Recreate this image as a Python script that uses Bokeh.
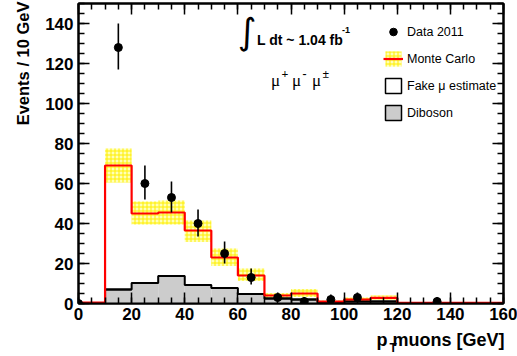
import numpy as np
from bokeh.plotting import figure
from bokeh.models import (Range1d, LinearAxis, SingleIntervalTicker, CustomJSTickFormatter,
                          Label, Legend, LegendItem, Title)
from bokeh.embed import file_html
from bokeh.resources import INLINE

# ---- data ----
bin_lo = [0, 10, 20, 30, 40, 50, 60, 70, 80, 90, 100, 110, 120, 130, 140, 150]
bin_hi = [10, 20, 30, 40, 50, 60, 70, 80, 90, 100, 110, 120, 130, 140, 150, 160]
mc      = [0.5, 69.0, 45.0, 45.5, 36.5, 23.0, 14.0, 4.0, 5.0, 1.0, 2.0, 2.8, 0.3, 0.3, 0.3, 0.3]
mc_down = [0.3, 60.5, 39.5, 39.5, 30.7, 18.7, 11.2, 2.8, 3.3, 0.6, 1.3, 2.0, 0.2, 0.2, 0.2, 0.2]
mc_up   = [0.7, 77.5, 51.0, 51.5, 41.5, 27.5, 17.5, 5.3, 7.3, 1.5, 3.0, 4.0, 0.4, 0.4, 0.4, 0.4]
diboson = [0.0, 7.0, 10.3, 13.7, 9.2, 7.8, 4.8, 2.5, 2.0, 0.5, 1.0, 1.0, 0.0, 0.0, 0.0, 0.0]
fake    = [0.0] * 16

data_x  = [0, 15, 25, 35, 45, 55, 65, 75, 85, 95, 105, 135]
data_y  = [0, 128, 60, 53, 40, 25, 13, 3, 1, 2, 3, 1]
data_lo = [0, 117, 52, 45.5, 33.5, 20, 9.5, 1.2, 0.2, 0.7, 1.3, 0.2]
data_hi = [0, 140, 69, 61, 47, 31, 17.5, 5.5, 3.3, 4.5, 5.5, 3.3]

xticks_major = 20
yticks_major = 20

FONT = "Liberation Sans"

p = figure(width=517, height=356, output_backend="svg", toolbar_location=None,
           x_range=Range1d(0, 160), y_range=Range1d(0, 150),
           min_border_left=77, min_border_right=14, min_border_top=3, min_border_bottom=53)
p.xgrid.visible = False
p.ygrid.visible = False
p.outline_line_color = "black"
p.outline_line_width = 2
p.background_fill_color = "white"
p.border_fill_color = "white"

def style_axis(ax, interval, labels=True):
    ax.ticker = SingleIntervalTicker(interval=interval, num_minor_ticks=4)
    ax.axis_line_color = "black"
    ax.axis_line_width = 2
    ax.major_tick_in = 11
    ax.major_tick_out = 0
    ax.minor_tick_in = 6
    ax.minor_tick_out = 0
    ax.major_tick_line_width = 1.5
    ax.minor_tick_line_width = 1.5
    ax.major_tick_line_color = "black"
    ax.minor_tick_line_color = "black"
    ax.major_label_text_font = FONT
    ax.major_label_text_font_style = "bold"
    ax.major_label_text_font_size = "17px"
    ax.major_label_text_color = "black"
    if not labels:
        ax.formatter = CustomJSTickFormatter(code="return ''")

style_axis(p.xaxis[0], xticks_major)
style_axis(p.yaxis[0], yticks_major)
p.xaxis[0].major_label_standoff = 4
p.yaxis[0].major_label_standoff = 5

ax_r = LinearAxis()
style_axis(ax_r, yticks_major, labels=False)
p.add_layout(ax_r, "right")
ax_t = LinearAxis()
style_axis(ax_t, xticks_major, labels=False)
p.add_layout(ax_t, "above")

# axis titles as side-panel titles
ytitle = Title(text="Events / 10 GeV", align="right", text_font=FONT, text_font_style="bold",
               text_font_size="16.5px", text_color="black", offset=-2, standoff=22)
p.add_layout(ytitle, "left")
xtitle = Title(text="p  muons [GeV]", align="right", text_font=FONT, text_font_style="bold",
               text_font_size="18px", text_color="black", offset=-6, standoff=10)
p.add_layout(xtitle, "below")
xsub = Title(text="T", align="left", vertical_align="top", text_font=FONT, text_font_style="bold",
             text_font_size="12px", text_color="black", offset=311, standoff=-28)
p.add_layout(xsub, "below")

# MC uncertainty band
band = p.quad(left=bin_lo, right=bin_hi, bottom=mc_down, top=mc_up,
              fill_color="#ffffb8", line_color=None,
              hatch_pattern="cross", hatch_color="#ffee00", hatch_scale=4, hatch_weight=1)

# Diboson (stack bottom) and fake (stacked on top)
p.quad(left=bin_lo, right=bin_hi, bottom=0, top=diboson,
       fill_color="#cccccc", line_color=None)
fake_top = [d + f for d, f in zip(diboson, fake)]
p.quad(left=bin_lo, right=bin_hi, bottom=diboson, top=fake_top,
       fill_color="white", line_color="black", line_width=2)
edges = bin_lo + [bin_hi[-1]]
p.step(x=edges, y=fake_top + [fake_top[-1]], mode="after", line_color="black", line_width=2)

# MC total
mc_line = p.step(x=edges, y=mc + [mc[-1]], mode="after", line_color="#ff0000", line_width=2.2)

# Data
p.segment(x0=data_x, x1=data_x, y0=data_lo, y1=data_hi, line_color="black", line_width=1.6)
pts = p.scatter(x=data_x, y=data_y, size=8, marker="circle", fill_color="black", line_color="black")

# Legend
leg_pts = p.scatter(x=[-100], y=[-100], size=6, marker="circle", fill_color="black", line_color="black")
dummy_fake = p.quad(left=[0], right=[0], bottom=[0], top=[0], fill_color="white",
                    line_color="black", line_width=1.5)
dummy_dib = p.quad(left=[0], right=[0], bottom=[0], top=[0], fill_color="#cccccc",
                   line_color="black", line_width=1.5)
legend = Legend(items=[
    LegendItem(label="Data 2011", renderers=[leg_pts]),
    LegendItem(label="Monte Carlo", renderers=[band, mc_line]),
    LegendItem(label="Fake \u03bc estimate", renderers=[dummy_fake]),
    LegendItem(label="Diboson", renderers=[dummy_dib]),
], location=(305, 181))
legend.border_line_color = None
legend.background_fill_alpha = 0
legend.padding = 0
legend.margin = 0
legend.spacing = 8
legend.glyph_width = 20
legend.glyph_height = 19
legend.label_height = 19
legend.label_standoff = 4
legend.label_text_font = FONT
legend.label_text_font_size = "12.5px"
legend.label_text_color = "black"
p.add_layout(legend, "center")

def lab(text, x, y, size, font=FONT, style="normal", align="left", baseline="alphabetic", angle=0):
    p.add_layout(Label(x=x, y=y, text=text, text_font=font, text_font_size=size,
                       text_font_style=style, text_align=align, text_baseline=baseline,
                       text_color="black", angle=angle))

# px -> data helpers (frame: x 77..503, y 3..303)
def dx(px):
    return (px - 77) * 160.0 / 426.0
def dy(py):
    return (303 - py) * 150.0 / 300.0

# luminosity
lab("\u222b", dx(246), dy(31), "36px", font="DejaVu Sans", align="center", baseline="middle")
lab("L dt ~ 1.04 fb", dx(256), dy(39), "14px", style="bold")
lab("-1", dx(341), dy(29), "9px", style="bold")

# channel
for mx, sup in [(270, "+"), (291, "-"), (311, "\u00b1")]:
    lab("\u03bc", dx(mx), dy(80), "17px", font="Liberation Serif")
    lab(sup, dx(mx + 10.5), dy(73.5), "12px", font="Liberation Serif", style="bold")

open("out.html", "w").write(file_html(p, INLINE))
